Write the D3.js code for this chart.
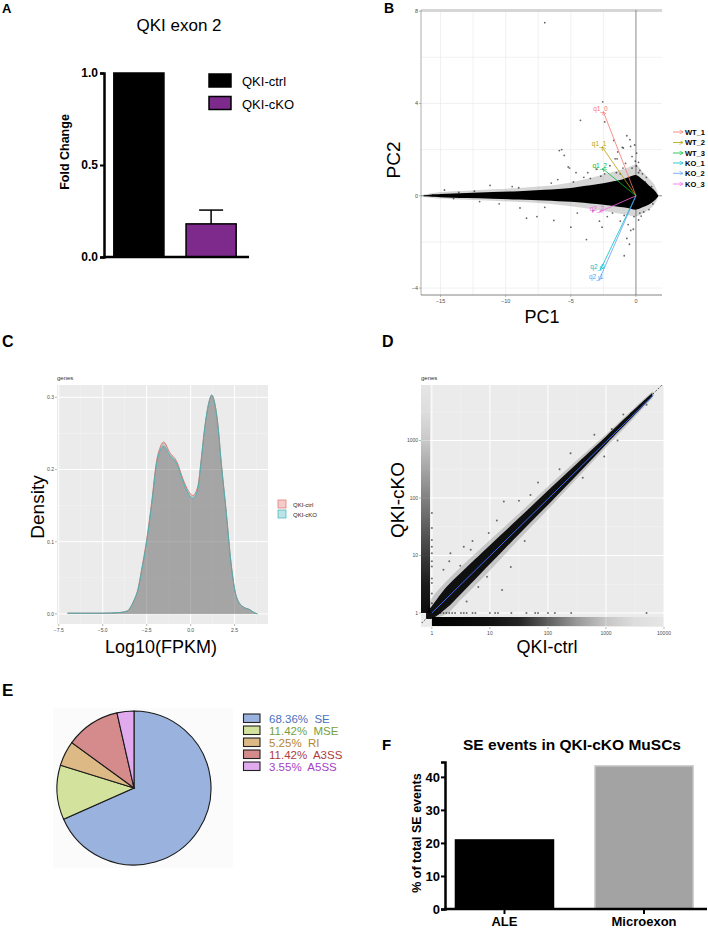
<!DOCTYPE html>
<html>
<head>
<meta charset="utf-8">
<script src="https://cdn.jsdelivr.net/npm/d3@7"></script>
<style>
  body { margin: 0; background: #fff; }
  svg { display: block; }
  text { font-family: "Liberation Sans", Arial, sans-serif; }
</style>
</head>
<body>
<svg id="fig" width="708" height="930"></svg>
<script>
// ── Panel A: QKI exon 2 fold change
const A_GROUPS = ['QKI-ctrl', 'QKI-cKO'];
const A_VALUES = [1.0, 0.18];
const A_ERR    = [0, 0.075];
const A_COLORS = ['#000000', '#7D2A8C'];
const A_TICKS  = [0, 0.5, 1.0];

// ── Panel B: PCA biplot
const B_LOAD_NAMES = ['WT_1', 'WT_2', 'WT_3', 'KO_1', 'KO_2', 'KO_3'];
const B_LOAD_TAGS  = ['q1_0', 'q1_1', 'q1_2', 'q2_0', 'q2_1', 'q2_2'];
const B_LOAD_PC1   = [-2.5, -2.6, -2.55, -2.72, -2.82, -2.77];
const B_LOAD_PC2   = [3.64, 2.12, 1.17, -3.2, -3.64, -0.69];
const B_COLORS     = ['#F8766D', '#B79F00', '#00BA38', '#00BFC4', '#619CFF', '#F564E3'];
const B_XTICKS = [-15, -10, -5, 0];
const B_YTICKS = [-4, 0, 4, 8];
// envelope of the dense gene cloud (PC1, PC2 low, PC2 high)
const B_ENV_PC1   = [-16.3, -15, -13, -11, -9, -7, -5, -4, -3, -2, -1, -0.5, 0, 0.5, 1.0, 1.4, 1.7];
const B_CORE_HI   = [0.02, 0.08, 0.12, 0.16, 0.2, 0.26, 0.34, 0.42, 0.5, 0.6, 0.72, 0.82, 0.9, 0.7, 0.45, 0.25, 0.03];
const B_CORE_LO   = [-0.02, -0.06, -0.1, -0.13, -0.16, -0.2, -0.26, -0.3, -0.36, -0.42, -0.5, -0.55, -0.6, -0.5, -0.38, -0.22, -0.03];
const B_HALO_HI   = [0.05, 0.16, 0.22, 0.28, 0.34, 0.42, 0.58, 0.7, 0.85, 1.0, 1.15, 1.25, 1.35, 1.05, 0.75, 0.5, 0.08];
const B_HALO_LO   = [-0.05, -0.12, -0.17, -0.22, -0.27, -0.33, -0.45, -0.53, -0.62, -0.7, -0.8, -0.86, -0.9, -0.78, -0.6, -0.4, -0.08];
const B_OUTLIERS = [
  [-7.0, 7.5], [-2.55, 4.07], [-4.26, 3.27], [-2.4, 3.2], [-1.05, 2.1], [-0.7, 2.6], [-0.46, 2.43],
  [-0.41, 2.14], [-0.97, 2.07], [-1.4, 1.9], [-1.45, 1.6], [-1.6, 1.6], [-5.7, 2.0], [-5.5, 1.75],
  [-5.2, 1.25], [-5.88, 1.96], [-5.1, 1.2], [-0.05, 1.5], [0.03, 1.29], [0.05, 1.85], [-0.1, 2.2],
  [0.2, 1.45], [0.3, 1.1], [-3.7, 1.0], [-4.6, 1.0], [-11.2, 0.45], [-12.4, 0.2], [-13.6, 0.15],
  [-14.7, 0.25], [-15.6, 0.04], [-8.4, -0.97], [-7.6, -0.9], [-8.9, -0.53], [-5.0, -1.36],
  [-2.6, -1.36], [-3.8, -1.9], [-0.4, -1.5], [-0.15, -0.9], [-0.7, -1.85], [-0.5, -2.1], [-0.9, -2.6],
  [0.2, -1.05], [0.4, -0.88], [-0.2, -1.45], [-6.3, -1.07], [-1.7, 2.4], [-0.3, 1.7], [0.5, 0.95],
  [0.8, 0.8], [-2.0, 1.3], [-3.0, 1.15], [-6.5, 0.55], [-9.5, 0.4], [-10.5, -0.35], [-7.0, -0.5],
  [-4.5, -0.75], [-2.2, -0.9], [-1.2, -1.1], [0.6, -0.7], [1.0, -0.6], [-0.6, -1.25], [-3.3, -0.65],
  [-12.0, -0.25], [-14.0, -0.12], [-9.0, 0.35], [-6.0, 0.7], [-4.0, 0.8], [-1.0, 1.2], [0.2, 1.0], [-2.8, -1.1],
  [-1.5, 1.0], [-0.8, 1.4], [-2.4, 0.95], [-3.5, 0.75], [-4.8, 0.6], [-1.8, -0.75], [-0.9, -0.85],
  [0.3, -0.75], [-2.7, 0.85], [-1.2, 0.95], [-0.3, 1.2], [0.7, 0.6], [1.2, 0.4], [1.3, -0.35]
];

// ── Panel C: density of log10(FPKM)
const C_X    = [-7.0, -6.0, -5.0, -4.0, -3.6, -3.4, -3.2, -3.0, -2.8, -2.5, -2.2, -1.95, -1.76, -1.53, -1.2, -0.77, -0.44, -0.12, 0.13, 0.41, 0.6, 0.79, 1.04, 1.2, 1.36, 1.55, 1.74, 2.03, 2.3, 2.6, 2.97, 3.35, 3.6, 3.8];
const C_CTRL = [0.001, 0.001, 0.001, 0.002, 0.004, 0.010, 0.020, 0.034, 0.060, 0.103, 0.158, 0.210, 0.229, 0.238, 0.224, 0.210, 0.187, 0.170, 0.164, 0.177, 0.214, 0.256, 0.293, 0.303, 0.293, 0.262, 0.210, 0.140, 0.070, 0.024, 0.010, 0.006, 0.002, 0.0];
const C_CKO  = [0.001, 0.001, 0.001, 0.002, 0.004, 0.010, 0.020, 0.033, 0.058, 0.100, 0.155, 0.206, 0.225, 0.232, 0.220, 0.207, 0.184, 0.166, 0.160, 0.173, 0.212, 0.255, 0.293, 0.303, 0.293, 0.262, 0.210, 0.140, 0.070, 0.024, 0.010, 0.006, 0.002, 0.0];
const C_SERIES = ['QKI-ctrl', 'QKI-cKO'];
const C_COLORS = ['#E0716A', '#3FB3B6'];
const C_XTICKS = [-7.5, -5.0, -2.5, 0.0, 2.5];
const C_YTICKS = [0.0, 0.1, 0.2, 0.3];

// ── Panel D: FPKM scatter, ctrl vs cKO (log10 units)
const D_TICKS = [1, 10, 100, 1000, 10000];
const D_ENV_LX  = [-0.1, 0, 0.25, 0.5, 1.0, 1.5, 2.0, 2.5, 3.0, 3.5, 3.8];
const D_CORE_HI = [0.0, 0.12, 0.45, 0.7, 1.18, 1.65, 2.13, 2.6, 3.07, 3.55, 3.83];
const D_CORE_LO = [-0.1, -0.1, 0.08, 0.33, 0.85, 1.37, 1.88, 2.4, 2.93, 3.45, 3.77];
const D_HALO_HI = [0.05, 0.26, 0.55, 0.8, 1.27, 1.73, 2.2, 2.66, 3.11, 3.58, 3.85];
const D_HALO_LO = [-0.1, -0.1, -0.02, 0.23, 0.74, 1.28, 1.8, 2.34, 2.88, 3.41, 3.74];
const D_OUTLIERS = [
  [1.24, 1.94], [1.83, 2.27], [0.32, 1.04], [1.12, 1.61], [0.98, 1.39], [1.21, 0.40], [0.95, 0.63],
  [1.36, 0.80], [0.84, 0.75], [0.49, 0.82], [0.67, 1.1], [2.39, 2.78], [2.97, 2.72], [0.2, 0.75],
  [0.3, 0.9], [0.55, 1.15], [0.7, 1.25], [0.8, 0.45], [0.6, 0.2], [1.5, 1.95], [1.6, 1.25], [1.7, 2.05],
  [2.2, 2.5], [2.6, 2.35], [2.8, 3.1], [3.2, 3.0], [3.3, 3.45], [3.43, 3.47], [3.6, 3.59], [2.91, 2.89],
  [2.59, 2.66], [3.1, 3.2], [3.7, 3.62],
  // column at ctrl = 1
  [0, 1.74], [0, 1.48], [0, 1.27], [0, 1.04], [0, 0.81], [0, 0.52], [0, 0.34], [0, 0.17], [0, 0.6], [0, 0.9], [0, 1.15],
  // row at cKO = 1
  [0.05, 0], [0.1, 0], [0.15, 0], [0.2, 0], [0.25, 0], [0.3, 0], [0.35, 0], [0.4, 0], [0.5, 0], [0.55, 0],
  [0.6, 0], [0.7, 0], [0.75, 0], [1.0, 0], [1.09, 0], [1.14, 0], [1.37, 0], [1.63, 0], [1.78, 0], [1.83, 0],
  [2.0, 0], [2.12, 0], [2.4, 0], [3.7, 0]
];
const D_FIT = [[0, 0], [3.82, 3.79]];
// marginal rug darkness along log10 axis
const D_RUG_POS   = [0, 0.5, 1, 1.5, 2, 2.5, 3, 3.5, 4];
const D_RUG_X_OP  = [1.0, 0.97, 0.93, 0.85, 0.6, 0.35, 0.16, 0.06, 0.02];
const D_RUG_Y_OP  = [0.95, 0.88, 0.75, 0.6, 0.45, 0.3, 0.15, 0.06, 0.02];

// ── Panel E: splicing event types
const E_TYPES  = ['SE', 'MSE', 'RI', 'A3SS', 'A5SS'];
const E_VALUES = [68.36, 11.42, 5.25, 11.42, 3.55];
const E_FILLS  = ['#9AB2DE', '#D3E39D', '#DDBA85', '#D58B8B', '#E1AAEF'];
const E_TEXTS  = ['#4A72C0', '#78A03A', '#B5852F', '#B03C3C', '#A43FC4'];

// ── Panel F: SE events
const F_CATS   = ['ALE', 'Microexon'];
const F_VALUES = [20.9, 43.3];
const F_TICKS  = [0, 10, 20, 30, 40];

const svg = d3.select('#fig');
const CAL = 'Lato, "Open Sans", sans-serif';
const TICK_COL = '#4D4D4D';

function letter(x, y, t, size, fam) {
  svg.append('text').attr('x', x).attr('y', y).attr('font-size', size)
    .attr('font-weight', 'bold').attr('font-family', fam || null).text(t);
}

// ═══════ A ═══════
letter(2, 13, 'A', 13);
{
  const g = svg.append('g');
  const y = d3.scaleLinear().domain([0, 1]).range([257, 73]);
  const x = d3.scaleBand().domain(A_GROUPS).range([103, 247]).paddingInner(0.306).paddingOuter(0.15);

  g.append('text').attr('x', 179).attr('y', 31).attr('text-anchor', 'middle')
    .attr('font-size', 17).text('QKI exon 2');

  g.selectAll('rect.bar').data(A_GROUPS).join('rect')
    .attr('x', d => x(d)).attr('width', x.bandwidth())
    .attr('y', (d, i) => y(A_VALUES[i])).attr('height', (d, i) => y(0) - y(A_VALUES[i]))
    .attr('fill', (d, i) => A_COLORS[i])
    .attr('stroke', '#000').attr('stroke-width', 1.5);

  A_GROUPS.forEach((d, i) => {
    if (!A_ERR[i]) return;
    const cx = x(d) + x.bandwidth() / 2;
    const top = y(A_VALUES[i] + A_ERR[i]);
    g.append('line').attr('x1', cx).attr('x2', cx).attr('y1', y(A_VALUES[i])).attr('y2', top)
      .attr('stroke', '#000').attr('stroke-width', 1.5);
    g.append('line').attr('x1', cx - 12).attr('x2', cx + 12).attr('y1', top).attr('y2', top)
      .attr('stroke', '#000').attr('stroke-width', 1.5);
  });

  const ax = g.append('g').attr('transform', 'translate(104,0)')
    .call(d3.axisLeft(y).tickValues(A_TICKS).tickFormat(d3.format('.1f')).tickSize(4).tickPadding(2));
  ax.select('.domain').attr('stroke-width', 2.5);
  ax.selectAll('.tick line').attr('stroke-width', 2);
  ax.selectAll('text').attr('font-size', 12).attr('font-weight', 'bold').attr('fill', '#000')
    .attr('font-family', '"Liberation Sans", Arial, sans-serif');
  g.append('line').attr('x1', 103).attr('x2', 249).attr('y1', y(0)).attr('y2', y(0))
    .attr('stroke', '#000').attr('stroke-width', 2.5);

  g.append('text').attr('transform', 'translate(69,152) rotate(-90)').attr('text-anchor', 'middle')
    .attr('font-size', 12.5).attr('font-weight', 'bold').text('Fold Change');

  A_GROUPS.forEach((d, i) => {
    g.append('rect').attr('x', 209).attr('y', 74 + i * 22.5).attr('width', 22).attr('height', 13)
      .attr('fill', A_COLORS[i]).attr('stroke', '#000').attr('stroke-width', 1.5);
    g.append('text').attr('x', 242).attr('y', 86 + i * 22.5).attr('font-size', 13).text(d);
  });
}

// ═══════ B ═══════
letter(384, 13, 'B', 14);
{
  const g = svg.append('g');
  const x = d3.scaleLinear().domain([-16.5, 2.0]).range([421, 662]);
  const y = d3.scaleLinear().domain([-4.3, 8.05]).range([295, 10]);
  const [x0, x1] = x.range(), [y0, y1] = y.range();

  const xMinor = B_XTICKS.map(v => v - 2.5).concat([B_XTICKS[B_XTICKS.length - 1] + 2.5]);
  const yMinor = B_YTICKS.map(v => v + 2);
  g.selectAll('line.vg').data(B_XTICKS.concat(xMinor).filter(v => v > -16.5 && v < 2)).join('line')
    .attr('x1', d => x(d)).attr('x2', d => x(d)).attr('y1', y0).attr('y2', y1)
    .attr('stroke', '#EBEBEB').attr('stroke-width', 0.7);
  g.selectAll('line.hg').data(B_YTICKS.concat(yMinor).filter(v => v < 8.05)).join('line')
    .attr('y1', d => y(d)).attr('y2', d => y(d)).attr('x1', x0).attr('x2', x1)
    .attr('stroke', '#EBEBEB').attr('stroke-width', 0.7);

  g.append('line').attr('x1', x0).attr('x2', x1).attr('y1', 10.5).attr('y2', 10.5)
    .attr('stroke', '#D6D6D6').attr('stroke-width', 3);
  g.append('line').attr('x1', x0).attr('x2', x0).attr('y1', y0).attr('y2', 10)
    .attr('stroke', '#999').attr('stroke-width', 0.8);
  g.append('line').attr('x1', x0).attr('x2', x1).attr('y1', y0).attr('y2', y0)
    .attr('stroke', '#666').attr('stroke-width', 0.8);
  g.append('line').attr('x1', x(0)).attr('x2', x(0)).attr('y1', y0).attr('y2', 10)
    .attr('stroke', '#777').attr('stroke-width', 0.8);
  g.append('line').attr('x1', x0).attr('x2', x1).attr('y1', y(0)).attr('y2', y(0))
    .attr('stroke', '#777').attr('stroke-width', 0.8);

  const env = B_ENV_PC1.map((v, i) => ({ x: v, ch: B_CORE_HI[i], cl: B_CORE_LO[i], hh: B_HALO_HI[i], hl: B_HALO_LO[i] }));
  const halo = d3.area().x(d => x(d.x)).y0(d => y(d.hl)).y1(d => y(d.hh)).curve(d3.curveCatmullRom);
  const core = d3.area().x(d => x(d.x)).y0(d => y(d.cl)).y1(d => y(d.ch)).curve(d3.curveCatmullRom);
  g.append('path').attr('d', halo(env)).attr('fill', '#000').attr('opacity', 0.16);
  g.append('path').attr('d', core(env)).attr('fill', '#000');

  g.selectAll('circle.pt').data(B_OUTLIERS).join('circle')
    .attr('cx', d => x(d[0])).attr('cy', d => y(d[1])).attr('r', 0.9)
    .attr('fill', '#000').attr('opacity', 0.6);

  const defs = svg.append('defs');
  B_COLORS.forEach((c, i) => {
    defs.append('marker').attr('id', 'arr' + i).attr('viewBox', '0 0 10 10')
      .attr('refX', 9).attr('refY', 5).attr('markerWidth', 4).attr('markerHeight', 4)
      .attr('markerUnits', 'userSpaceOnUse').attr('orient', 'auto')
      .append('path').attr('d', 'M0,0 L10,5 L0,10').attr('fill', 'none').attr('stroke', c).attr('stroke-width', 1.5);
  });
  B_LOAD_NAMES.forEach((n, i) => {
    g.append('line').attr('x1', x(0)).attr('y1', y(0))
      .attr('x2', x(B_LOAD_PC1[i])).attr('y2', y(B_LOAD_PC2[i]))
      .attr('stroke', B_COLORS[i]).attr('stroke-width', 0.8).attr('marker-end', `url(#arr${i})`);
    g.append('text').attr('x', x(B_LOAD_PC1[i]) - 3).attr('y', y(B_LOAD_PC2[i]) - 1)
      .attr('text-anchor', 'middle').attr('font-size', 6.5).attr('fill', B_COLORS[i]).text(B_LOAD_TAGS[i]);
  });

  B_YTICKS.forEach(v => {
    g.append('line').attr('x1', x0 - 2).attr('x2', x0).attr('y1', y(v)).attr('y2', y(v)).attr('stroke', '#888').attr('stroke-width', 0.6);
    g.append('text').attr('x', x0 - 3).attr('y', y(v) + 2).attr('text-anchor', 'end')
      .attr('font-size', 5.5).attr('fill', TICK_COL).text(v < 0 ? '\u2212' + (-v) : v);
  });
  B_XTICKS.forEach(v => {
    g.append('line').attr('x1', x(v)).attr('x2', x(v)).attr('y1', y0).attr('y2', y0 + 2).attr('stroke', '#888').attr('stroke-width', 0.6);
    g.append('text').attr('x', x(v)).attr('y', y0 + 8).attr('text-anchor', 'middle')
      .attr('font-size', 5.5).attr('fill', TICK_COL).text(v < 0 ? '\u2212' + (-v) : v);
  });

  g.append('text').attr('transform', 'translate(400,160) rotate(-90)').attr('text-anchor', 'middle')
    .attr('font-family', CAL).attr('font-size', 19).text('PC2');
  g.append('text').attr('x', 542).attr('y', 323).attr('text-anchor', 'middle')
    .attr('font-family', CAL).attr('font-size', 18).text('PC1');

  const legY = [132, 142.5, 153, 163, 173.3, 184];
  B_LOAD_NAMES.forEach((n, i) => {
    g.append('line').attr('x1', 673).attr('x2', 683).attr('y1', legY[i]).attr('y2', legY[i])
      .attr('stroke', B_COLORS[i]).attr('stroke-width', 0.8).attr('marker-end', `url(#arr${i})`);
    g.append('text').attr('x', 685).attr('y', legY[i] + 2.6).attr('font-size', 7.5)
      .attr('font-weight', 'bold').text(n);
  });
}

// ═══════ C ═══════
letter(2, 347, 'C', 16, CAL);
{
  const g = svg.append('g');
  const x = d3.scaleLinear().domain([-7.6, 4.4]).range([57, 268]);
  const y = d3.scaleLinear().domain([-0.014, 0.317]).range([624, 385]);
  const [x0, x1] = x.range(), [y0, y1] = y.range();
  g.append('rect').attr('x', x0).attr('y', y1).attr('width', x1 - x0).attr('height', y0 - y1).attr('fill', '#EBEBEB');

  const xMinor = C_XTICKS.map(v => v + 1.25);
  const yMinor = C_YTICKS.slice(0, -1).map(v => v + 0.05);
  g.selectAll('line.vm').data(xMinor).join('line')
    .attr('x1', d => x(d)).attr('x2', d => x(d)).attr('y1', y0).attr('y2', y1).attr('stroke', '#F5F5F5').attr('stroke-width', 0.5);
  g.selectAll('line.hm').data(yMinor).join('line')
    .attr('y1', d => y(d)).attr('y2', d => y(d)).attr('x1', x0).attr('x2', x1).attr('stroke', '#F5F5F5').attr('stroke-width', 0.5);
  g.selectAll('line.vM').data(C_XTICKS).join('line')
    .attr('x1', d => x(d)).attr('x2', d => x(d)).attr('y1', y0).attr('y2', y1).attr('stroke', '#fff').attr('stroke-width', 1);
  g.selectAll('line.hM').data(C_YTICKS).join('line')
    .attr('y1', d => y(d)).attr('y2', d => y(d)).attr('x1', x0).attr('x2', x1).attr('stroke', '#fff').attr('stroke-width', 1);

  [C_CTRL, C_CKO].forEach((s, k) => {
    const pts = C_X.map((v, i) => [v, s[i]]);
    const ar = d3.area().x(d => x(d[0])).y0(y(0)).y1(d => y(d[1])).curve(d3.curveMonotoneX);
    const ln = d3.line().x(d => x(d[0])).y(d => y(d[1])).curve(d3.curveMonotoneX);
    g.append('path').attr('d', ar(pts)).attr('fill', '#6E6E6E').attr('opacity', 0.33);
    g.append('path').attr('d', ln(pts)).attr('fill', 'none').attr('stroke', C_COLORS[k]).attr('stroke-width', 0.9);
  });

  C_YTICKS.forEach(v => {
    g.append('line').attr('x1', x0 - 2).attr('x2', x0).attr('y1', y(v)).attr('y2', y(v)).attr('stroke', '#888').attr('stroke-width', 0.6);
    g.append('text').attr('x', x0 - 3).attr('y', y(v) + 2).attr('text-anchor', 'end')
      .attr('font-size', 5).attr('fill', TICK_COL).text(d3.format('.1f')(v));
  });
  C_XTICKS.forEach(v => {
    g.append('line').attr('x1', x(v)).attr('x2', x(v)).attr('y1', y0).attr('y2', y0 + 2).attr('stroke', '#888').attr('stroke-width', 0.6);
    g.append('text').attr('x', x(v)).attr('y', y0 + 7.5).attr('text-anchor', 'middle')
      .attr('font-size', 5).attr('fill', TICK_COL).text(v < 0 ? '\u2212' + d3.format('.1f')(-v) : d3.format('.1f')(v));
  });
  g.append('text').attr('x', x0).attr('y', 380).attr('font-size', 6).attr('fill', '#333').text('genes');

  g.append('text').attr('transform', 'translate(44,507) rotate(-90)').attr('text-anchor', 'middle')
    .attr('font-family', CAL).attr('font-size', 19).text('Density');
  g.append('text').attr('x', 161).attr('y', 653).attr('text-anchor', 'middle')
    .attr('font-family', CAL).attr('font-size', 18).text('Log10(FPKM)');

  C_SERIES.forEach((n, i) => {
    g.append('rect').attr('x', 278).attr('y', 500 + i * 10).attr('width', 8).attr('height', 8)
      .attr('fill', C_COLORS[i]).attr('fill-opacity', 0.35).attr('stroke', C_COLORS[i]).attr('stroke-width', 0.7);
    g.append('text').attr('x', 293).attr('y', 506.5 + i * 10).attr('font-size', 6).attr('fill', '#222').text(n);
  });
}

// ═══════ D ═══════
letter(382, 347, 'D', 16, CAL);
{
  const g = svg.append('g');
  const x = d3.scaleLog().domain([0.65, 10000]).range([421, 664]);
  const y = d3.scaleLog().domain([0.57, 9230]).range([627, 385]);
  const [x0, x1] = x.range(), [y0, y1] = y.range();
  const p10 = v => Math.pow(10, v);

  g.append('rect').attr('x', x0).attr('y', y1).attr('width', x1 - x0).attr('height', y0 - y1).attr('fill', '#EBEBEB');
  const minor = D_TICKS.map(v => v * Math.sqrt(10)).concat([D_TICKS[0] / Math.sqrt(10)]);
  g.selectAll('line.vm').data(minor.filter(v => x(v) > x0 && x(v) < x1)).join('line')
    .attr('x1', d => x(d)).attr('x2', d => x(d)).attr('y1', y0).attr('y2', y1).attr('stroke', '#F5F5F5').attr('stroke-width', 0.5);
  g.selectAll('line.hm').data(minor.filter(v => y(v) > y1 && y(v) < y0)).join('line')
    .attr('y1', d => y(d)).attr('y2', d => y(d)).attr('x1', x0).attr('x2', x1).attr('stroke', '#F5F5F5').attr('stroke-width', 0.5);
  g.selectAll('line.vM').data(D_TICKS).join('line')
    .attr('x1', d => x(d)).attr('x2', d => x(d)).attr('y1', y0).attr('y2', y1).attr('stroke', '#fff').attr('stroke-width', 1);
  g.selectAll('line.hM').data(D_TICKS.filter(v => y(v) > y1)).join('line')
    .attr('y1', d => y(d)).attr('y2', d => y(d)).attr('x1', x0).attr('x2', x1).attr('stroke', '#fff').attr('stroke-width', 1);

  const defs = svg.append('defs');
  const gx = defs.append('linearGradient').attr('id', 'rugx').attr('gradientUnits', 'userSpaceOnUse')
    .attr('x1', x(1)).attr('x2', x(10000)).attr('y1', 0).attr('y2', 0);
  D_RUG_POS.forEach((p, i) => gx.append('stop').attr('offset', p / 4).attr('stop-color', '#000').attr('stop-opacity', D_RUG_X_OP[i]));
  const gy = defs.append('linearGradient').attr('id', 'rugy').attr('gradientUnits', 'userSpaceOnUse')
    .attr('x1', 0).attr('x2', 0).attr('y1', y(1)).attr('y2', y(10000));
  D_RUG_POS.forEach((p, i) => gy.append('stop').attr('offset', p / 4).attr('stop-color', '#000').attr('stop-opacity', D_RUG_Y_OP[i]));
  g.append('rect').attr('x', x(1)).attr('y', 617).attr('width', x1 - x(1)).attr('height', 9).attr('fill', 'url(#rugx)');
  g.append('rect').attr('x', x0).attr('y', y1).attr('width', 9).attr('height', y(1) - y1).attr('fill', 'url(#rugy)');

  const clip = defs.append('clipPath').attr('id', 'dclip');
  clip.append('rect').attr('x', x0).attr('y', y1).attr('width', x1 - x0).attr('height', y0 - y1);
  const pg = g.append('g').attr('clip-path', 'url(#dclip)');

  const env = D_ENV_LX.map((v, i) => ({ x: p10(v), ch: p10(D_CORE_HI[i]), cl: p10(D_CORE_LO[i]), hh: p10(D_HALO_HI[i]), hl: p10(D_HALO_LO[i]) }));
  pg.append('path').attr('d', d3.area().x(d => x(d.x)).y0(d => y(d.hl)).y1(d => y(d.hh)).curve(d3.curveCatmullRom)(env))
    .attr('fill', '#000').attr('opacity', 0.16);
  pg.append('path').attr('d', d3.area().x(d => x(d.x)).y0(d => y(d.cl)).y1(d => y(d.ch)).curve(d3.curveCatmullRom)(env))
    .attr('fill', '#000').attr('opacity', 0.92);
  pg.selectAll('circle').data(D_OUTLIERS).join('circle')
    .attr('cx', d => x(p10(d[0]))).attr('cy', d => y(p10(d[1]))).attr('r', 1)
    .attr('fill', '#000').attr('opacity', 0.55);

  pg.append('line').attr('x1', x(0.5)).attr('y1', y(0.5)).attr('x2', x(10000)).attr('y2', y(10000))
    .attr('stroke', '#000').attr('stroke-width', 0.8).attr('stroke-dasharray', '1.5,2');
  pg.append('line').attr('x1', x(p10(D_FIT[0][0]))).attr('y1', y(p10(D_FIT[0][1])))
    .attr('x2', x(p10(D_FIT[1][0]))).attr('y2', y(p10(D_FIT[1][1])))
    .attr('stroke', '#3C6BF0').attr('stroke-width', 1);

  D_TICKS.filter(v => y(v) > y1).forEach(v => {
    g.append('line').attr('x1', x0 - 2).attr('x2', x0).attr('y1', y(v)).attr('y2', y(v)).attr('stroke', '#888').attr('stroke-width', 0.6);
    g.append('text').attr('x', x0 - 3).attr('y', y(v) + 2).attr('text-anchor', 'end')
      .attr('font-size', 5).attr('fill', TICK_COL).text(v);
  });
  D_TICKS.forEach(v => {
    g.append('line').attr('x1', x(v)).attr('x2', x(v)).attr('y1', y0).attr('y2', y0 + 2).attr('stroke', '#888').attr('stroke-width', 0.6);
    g.append('text').attr('x', x(v)).attr('y', y0 + 7.5).attr('text-anchor', 'middle')
      .attr('font-size', 5).attr('fill', TICK_COL).text(v);
  });
  g.append('text').attr('x', x0).attr('y', 380).attr('font-size', 6).attr('fill', '#333').text('genes');

  g.append('text').attr('transform', 'translate(404,500) rotate(-90)').attr('text-anchor', 'middle')
    .attr('font-family', CAL).attr('font-size', 19).text('QKI-cKO');
  g.append('text').attr('x', 547).attr('y', 653).attr('text-anchor', 'middle')
    .attr('font-family', CAL).attr('font-size', 18).text('QKI-ctrl');
}

// ═══════ E ═══════
const E_CY = 788;
letter(2, E_CY - 92, 'E', 17, CAL);
{
  const g = svg.append('g');
  g.append('rect').attr('x', 53).attr('y', E_CY - 80).attr('width', 180).attr('height', 160).attr('fill', '#FBFBFB');
  const arcs = d3.pie().sort(null).value(d => d)(E_VALUES);
  const arc = d3.arc().innerRadius(0).outerRadius(77);
  g.append('g').attr('transform', `translate(134,${E_CY})`)
    .selectAll('path').data(arcs).join('path')
    .attr('d', arc).attr('fill', (d, i) => E_FILLS[i])
    .attr('stroke', '#1a1a1a').attr('stroke-width', 1.1);

  const ly = E_CY - 74;
  E_TYPES.forEach((t, i) => {
    g.append('rect').attr('x', 243.5).attr('y', ly + i * 12).attr('width', 16.5).attr('height', 8.5)
      .attr('fill', E_FILLS[i]).attr('stroke', '#222').attr('stroke-width', 1.1);
    g.append('text').attr('x', 269).attr('y', ly + 8.5 + i * 12).attr('font-size', 11.5)
      .attr('fill', E_TEXTS[i]).style('white-space', 'pre')
      .text(`${d3.format('.2f')(E_VALUES[i])}%  ${t}`);
  });
}

// ═══════ F ═══════
letter(382, 750, 'F', 15, CAL);
{
  const g = svg.append('g');
  const y = d3.scaleLinear().domain([0, 44.5]).range([909, 762]);
  const x = d3.scaleBand().domain(F_CATS).range([445, 703.5]).paddingInner(0.2975).paddingOuter(0.075);

  g.append('text').attr('x', 572).attr('y', 750).attr('text-anchor', 'middle')
    .attr('font-family', CAL).attr('font-weight', 'bold').attr('font-size', 15.5)
    .text('SE events in QKI-cKO MuSCs');

  g.selectAll('rect').data(F_CATS).join('rect')
    .attr('x', d => x(d)).attr('width', x.bandwidth())
    .attr('y', (d, i) => y(F_VALUES[i])).attr('height', (d, i) => y(0) - y(F_VALUES[i]))
    .attr('fill', (d, i) => i === 0 ? '#000' : '#A3A3A3')
    .attr('stroke', (d, i) => i === 0 ? '#000' : '#C4C4C4').attr('stroke-width', 1.5);

  const ax = g.append('g').attr('transform', 'translate(445,0)')
    .call(d3.axisLeft(y).tickValues(F_TICKS).tickSize(4).tickPadding(1));
  ax.select('.domain').attr('stroke-width', 2.5);
  ax.selectAll('.tick line').attr('stroke-width', 2);
  ax.selectAll('text').attr('font-size', 13).attr('font-weight', 'bold').attr('fill', '#000')
    .attr('font-family', '"Liberation Sans", Arial, sans-serif');

  g.append('line').attr('x1', 444).attr('x2', 707).attr('y1', y(0)).attr('y2', y(0))
    .attr('stroke', '#000').attr('stroke-width', 2.5);
  F_CATS.forEach(c => {
    const cx = x(c) + x.bandwidth() / 2;
    g.append('line').attr('x1', cx).attr('x2', cx).attr('y1', y(0)).attr('y2', y(0) + 5)
      .attr('stroke', '#000').attr('stroke-width', 2);
    g.append('text').attr('x', cx).attr('y', 926).attr('text-anchor', 'middle')
      .attr('font-size', 13).attr('font-weight', 'bold').text(c);
  });

  g.append('text').attr('transform', 'translate(421,833) rotate(-90)').attr('text-anchor', 'middle')
    .attr('font-size', 12.5).attr('font-weight', 'bold').text('% of total SE events');
}
</script>
</body>
</html>
